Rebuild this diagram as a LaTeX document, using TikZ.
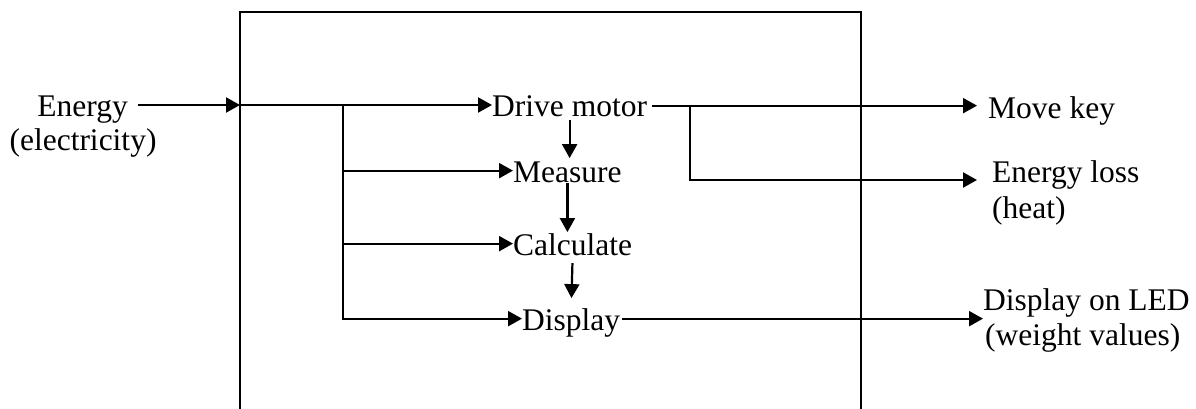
\documentclass[tikz,border=0pt]{standalone}
\usepackage{fontspec}
\setmainfont{Liberation Serif}
\usetikzlibrary{arrows.meta,calc}
\tikzset{
  lbl/.style={inner sep=0pt, text height=22.7pt, text depth=0pt,
              font=\fontsize{31.5}{38}\selectfont},
  wire/.style={line width=2.2pt},
  arr/.style={wire, -{Triangle[length=14pt,width=15pt]}},
  frame/.style={line width=2.4pt}
}
\begin{document}
\begin{tikzpicture}[x=1pt, y=-1pt]
\useasboundingbox (0,0) rectangle (1196,409);

% system boundary (open at the bottom)
\coordinate (bl) at (240,409);
\coordinate (tl) at (240,12);
\coordinate (tr) at (861,12);
\coordinate (br) at (861,409);
\draw[frame] (bl) -- (tl) -- (tr) -- (br);

% input
\node[lbl, anchor=base east] (energy) at (128,117) {Energy};
\node[lbl, anchor=base]      (elec)   at (83,150)  {(electricity)};

% internal functions
\node[lbl, anchor=base west] (drive)   at (492,117) {Drive motor};
\node[lbl, anchor=base west] (measure) at (513,182) {Measure};
\node[lbl, anchor=base west] (calc)    at (513,255) {Calculate};
\node[lbl, anchor=base west] (display) at (522,330) {Display};

% outputs
\node[lbl, anchor=base west] (movekey) at (988,119) {Move key};
\node[lbl, anchor=base west] (loss)    at (992,182) {Energy loss};
\node[lbl, anchor=base west] (heat)    at (992,218) {(heat)};
\node[lbl, anchor=base west] (led)     at (983,310) {Display on LED};
\node[lbl, anchor=base west] (weight)  at (985,345) {(weight values)};

% junction points
\coordinate (inlet) at (240,105);
\coordinate (split) at (343,105);
\coordinate (tap)   at (690,105);
\coordinate (bend)  at (690,180);

% energy into the system
\draw[arr] ($(energy.east |- inlet)+(10,0)$) -- (inlet);
\draw[arr] (inlet) -- (inlet -| drive.west);

% distribution to the functions
\draw[arr] (split) |- (measure.west);
\draw[arr] (split) |- (calc.west);
\draw[arr] (split) |- (display.west);

% sequence of functions
\draw[arr, shorten <=3pt, shorten >=1pt] (drive.south) -- (drive.south |- measure.north);
\draw[arr, shorten <=1pt] (measure.south) -- (measure.south |- calc.north);
\draw[arr, shorten <=8pt, shorten >=9pt] (calc.south) -- (display.north);

% outputs of the system
\draw[arr, shorten <=5pt, shorten >=11pt] (drive.east) -- (drive.east -| movekey.west);
\draw[arr, shorten >=15pt] (tap) |- (bend -| loss.west);
\draw[arr, shorten <=2pt] (display.east) -- (display.east -| led.west);
\end{tikzpicture}
\end{document}
